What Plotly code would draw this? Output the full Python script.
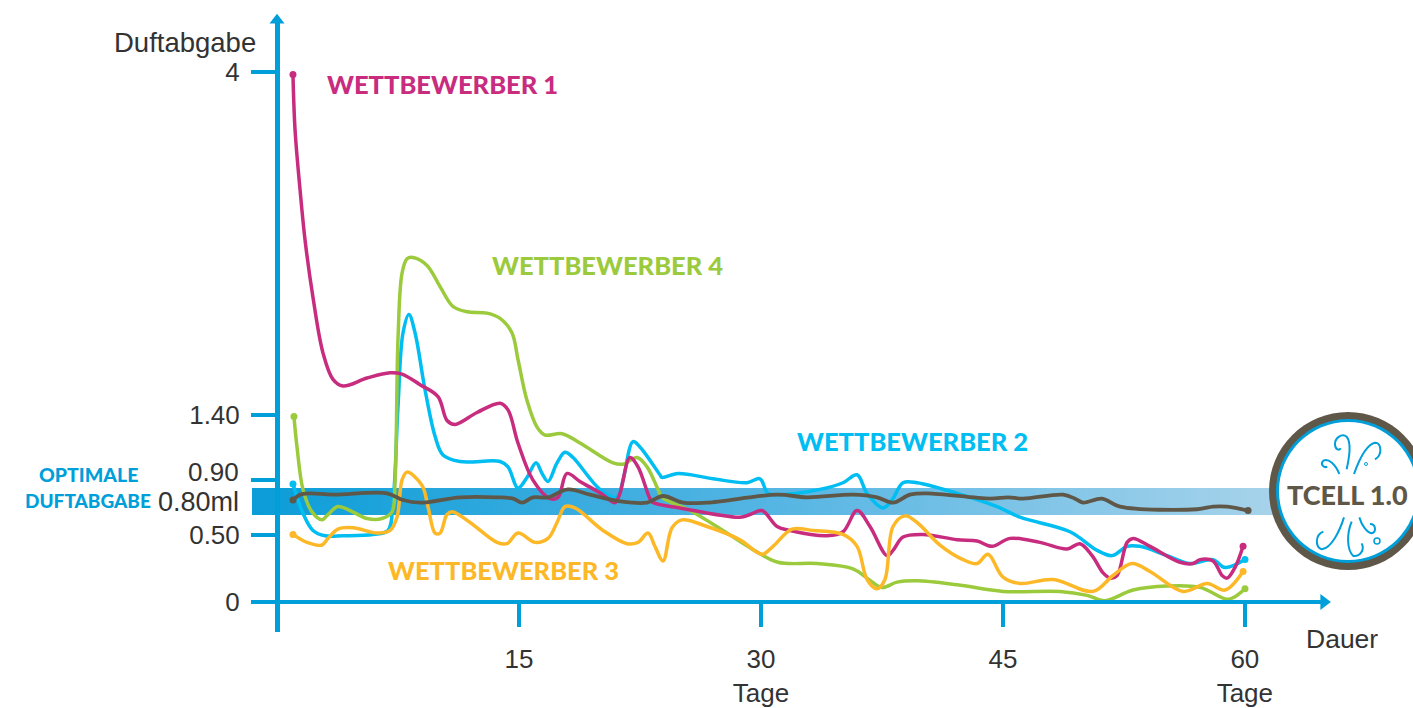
import plotly.graph_objects as go

# ---------- data (day, scent release) ----------
w1_x = [0.99,1.12,1.43,1.74,2.23,2.85,3.47,4.09,5.58,7.01,7.75,8.87,9.98,10.54,11.04,12.40,13.83,14.32,14.94,15.87,16.93,17.42,17.98,18.78,20.21,20.95,21.26,21.88,22.38,23.12,23.31,24.98,28.70,29.32,30.07,31.0,31.80,34.10,35.09,35.96,36.76,37.82,38.19,38.81,40.05,42.16,43.40,44.33,45.44,47.30,48.98,49.78,50.53,51.21,51.64,52.08,52.70,53.07,54.12,55.98,56.79,57.22,58.03,58.59,58.90,59.39,59.89]
w1_y = [3.98,3.56,3.11,2.73,2.30,1.88,1.68,1.63,1.69,1.73,1.72,1.64,1.55,1.37,1.34,1.43,1.50,1.45,1.20,.92,.78,.79,.97,.91,.81,.75,.82,1.09,1.02,.78,.75,.71,.64,.66,.69,.57,.54,.50,.53,.69,.57,.35,.39,.49,.51,.47,.46,.42,.48,.45,.40,.44,.35,.22,.18,.20,.45,.48,.42,.30,.29,.32,.31,.20,.18,.26,.42]

w2_x = [.99,1.61,2.23,2.98,4.09,5.95,6.88,7.19,7.50,7.81,8.18,8.56,9.18,9.80,10.29,11.35,13.83,14.32,14.94,15.50,16.06,16.43,16.80,17.36,17.85,18.35,20.02,21.08,21.45,22.07,22.5,23.74,23.87,24.86,27.03,29.14,29.94,30.44,31.18,33.66,35.09,35.96,36.58,37.57,38.13,38.81,39.68,42.16,44.64,46.06,49.16,50.84,51.77,52.70,53.50,55.18,56.60,58.03,58.77,60.01]
w2_y = [.89,.67,.54,.50,.50,.51,.54,.75,1.47,2.03,2.17,2.03,1.60,1.25,1.11,1.06,1.06,1.02,.86,.94,1.05,.97,.91,1.05,1.13,1.09,.85,.79,.92,1.21,1.17,.96,.94,.97,.93,.90,.93,.82,.81,.85,.90,.96,.82,.71,.77,.90,.90,.82,.72,.64,.53,.39,.35,.42,.42,.35,.29,.32,.26,.32]

w3_x = [.99,1.86,2.79,3.16,3.78,4.71,6.20,7.01,7.44,7.75,8.06,8.99,9.36,9.80,10.11,10.54,10.91,11.97,13.64,14.26,14.94,16.0,16.80,17.36,17.85,18.47,20.21,21.70,22.38,23.0,23.43,23.93,24.49,25.11,26.66,28.70,30.07,30.75,31.93,33.23,35.09,35.96,36.58,37.20,37.69,38.19,38.93,39.68,41.10,42.53,43.40,44.08,44.99,46.06,48.11,50.59,51.83,53.0,54.12,56.17,57.66,58.77,59.89]
w3_y = [.51,.45,.43,.48,.55,.56,.52,.54,.64,.92,.98,.88,.72,.52,.52,.66,.68,.60,.45,.44,.52,.45,.48,.60,.72,.71,.54,.44,.45,.52,.42,.31,.56,.62,.57,.47,.36,.42,.55,.54,.51,.42,.17,.10,.17,.57,.65,.60,.43,.32,.29,.36,.19,.14,.17,.08,.20,.29,.23,.08,.14,.09,.23]

w4_x = [1.05,1.24,1.61,2.17,2.79,3.16,3.78,4.53,5.58,6.51,7.13,7.32,7.50,7.75,8.06,8.43,9.30,10.11,10.91,11.78,13.02,13.83,14.57,14.94,15.50,16.12,16.61,17.67,18.78,20.83,21.45,22.32,22.94,23.62,23.87,25.60,27.65,29.32,31.06,33.48,35.71,36.58,37.51,38.44,39.68,42.16,45.01,48.54,50.22,51.33,53.07,55.18,57.22,58.90,59.39,60.01]
w4_y = [1.40,1.17,.85,.68,.62,.66,.72,.69,.63,.63,.68,.92,1.98,2.48,2.59,2.60,2.54,2.38,2.23,2.19,2.18,2.14,2.03,1.83,1.52,1.32,1.26,1.27,1.20,1.05,1.04,1.09,1.02,.85,.79,.69,.54,.41,.30,.29,.25,.18,.11,.15,.16,.13,.08,.08,.05,.01,.09,.12,.11,.02,.04,.10]

tcell_x = [.99,1.43,2.05,3.47,6.82,7.81,8.87,11.35,13.64,14.63,15.19,15.87,16.80,18.04,19.40,21.26,22.94,23.93,25.17,26.66,31.0,32.86,35.71,37.20,38.19,39.24,40.30,44.20,45.32,46.25,48.73,49.47,49.97,51.15,52.26,57.04,58.03,58.90,60.2]
tcell_y = [.77,.81,.82,.81,.82,.77,.75,.79,.79,.78,.75,.79,.79,.85,.81,.76,.75,.80,.75,.75,.81,.79,.81,.79,.75,.81,.82,.78,.79,.78,.81,.78,.75,.78,.72,.70,.72,.72,.69]

x_tick_vals = [15, 30, 45, 60]
x_tick_text = ["15", "30<br>Tage", "45", "60<br>Tage"]
y_tick_vals = [0, 0.506, 0.92, 1.41, 4]
y_tick_text = ["0", "0.50", "", "1.40", "4"]
band_low, band_high = 0.657, 0.86

AXIS = "#009FDA"
RED, BLUE, YEL, GRN, BRN = "#C82C7E", "#00BDF2", "#FDB827", "#9BCB3C", "#5F5849"
L, R, T, B = 252, 1325, 20, 632


def px(x, y):
    return (x - L) / (R - L), (B - y) / (B - T)


def series(x, y, color, width=3.5, dot=7):
    sizes = [dot] + [0] * (len(x) - 2) + [dot]
    return go.Scatter(x=x, y=y, mode="lines+markers", hoverinfo="skip", showlegend=False, cliponaxis=False,
                      line=dict(color=color, width=width, shape="spline", smoothing=1.0),
                      marker=dict(color=color, size=sizes, opacity=1, line=dict(width=0)))


fig = go.Figure()
fig.add_trace(go.Scatter(
    x=[-1.55, 63, 63, -1.55, -1.55], y=[band_low, band_low, band_high, band_high, band_low],
    mode="lines", line=dict(width=0), fill="toself", hoverinfo="skip", showlegend=False,
    fillgradient=dict(type="horizontal", colorscale=[[0, "#0B9DD8"], [0.5, "#55B5E3"], [1, "#AAD4EB"]])))
fig.add_trace(series(w2_x, w2_y, BLUE))
fig.add_trace(series(w4_x, w4_y, GRN))
fig.add_trace(series(w1_x, w1_y, RED))
fig.add_trace(series(w3_x, w3_y, YEL))
fig.add_trace(series(tcell_x, tcell_y, BRN, width=3.8))
# axis arrow heads
fig.add_trace(go.Scatter(x=[0], y=[4.39], mode="markers", cliponaxis=False, hoverinfo="skip", showlegend=False,
                         marker=dict(symbol="triangle-up", size=13, color=AXIS)))
fig.add_trace(go.Scatter(x=[64.9], y=[0], mode="markers", cliponaxis=False, hoverinfo="skip", showlegend=False,
                         marker=dict(symbol="triangle-right", size=14, color=AXIS)))


def label(text, x, y, color, size, font="Lato", bold=True, anchor="center"):
    xp, yp = px(x, y)
    f = dict(family=font, size=size, color=color)
    if bold:
        f["weight"] = 900
    fig.add_annotation(text=text, x=xp, y=yp, xref="paper", yref="paper",
                       showarrow=False, xanchor=anchor, yanchor="middle", font=f)


label("WETTBEWERBER 1", 442, 84, RED, 25.5)
label("WETTBEWERBER 4", 607, 265, GRN, 25.5)
label("WETTBEWERBER 2", 912, 441, BLUE, 25.5)
label("WETTBEWERBER 3", 503, 570, YEL, 25.5)
label("OPTIMALE", 88, 474, AXIS, 19.5)
label("DUFTABGABE", 88, 500, AXIS, 19)
label("Duftabgabe", 185, 43, "#333333", 27.5, "Liberation Sans", False)
label("0.90", 241, 472, "#333333", 26, "Liberation Sans", False, "right")
label("0.80ml", 241, 502, "#333333", 27, "Liberation Sans", False, "right")
label("Dauer", 1342, 639, "#333333", 26.5, "Liberation Sans", False)

# ---------- TCELL logo ----------
shapes = []
cx, cy = 1348, 491


def circle(x, y, r, fill, line=None, w=0):
    x0, y0 = px(x - r, y + r)
    x1, y1 = px(x + r, y - r)
    shapes.append(dict(type="circle", xref="paper", yref="paper", x0=x0, x1=x1, y0=y0, y1=y1,
                       fillcolor=fill, line=dict(color=line or fill, width=w), layer="above"))


def z(a, b):
    xp, yp = px(1000 + a / 3, 400 + b / 3)
    return f"{xp:.5f},{yp:.5f}"


def curl(start, *segs):
    d = "M" + z(*start)
    for s in segs:
        d += " C" + " ".join(z(s[i], s[i + 1]) for i in (0, 2, 4))
    shapes.append(dict(type="path", path=d, xref="paper", yref="paper", layer="above",
                       line=dict(color=AXIS, width=2), fillcolor="rgba(0,0,0,0)"))


circle(cx, cy, 79, BRN)
circle(cx, cy, 72, AXIS)
circle(cx, cy, 69, "#FFFFFF")
curl((1040, 208), (1048, 170, 1055, 130, 1040, 110), (1025, 98, 1003, 115, 1005, 135), (1007, 150, 1018, 152, 1022, 145))
curl((1062, 222), (1075, 185, 1095, 135, 1125, 128), (1145, 128, 1148, 165, 1125, 178))
curl((1018, 222), (1005, 190, 985, 175, 970, 182), (960, 192, 970, 205, 982, 200))
curl((1032, 352), (1020, 390, 995, 445, 965, 448), (945, 440, 945, 405, 970, 395))
curl((1055, 365), (1040, 400, 1040, 450, 1060, 468), (1080, 470, 1095, 450, 1085, 430))
curl((1078, 352), (1085, 375, 1100, 398, 1115, 400), (1130, 395, 1128, 372, 1110, 372))
circle(1366, 464, 1.5, "#FFFFFF", AXIS, 1)
circle(1377, 541, 3, "#FFFFFF", AXIS, 1.5)
label("TCELL 1.0", 1347, 494, BRN, 27)

fig.update_layout(
    width=1413, height=708, autosize=False, paper_bgcolor="white", plot_bgcolor="white",
    margin=dict(l=L, r=1413 - R, t=T, b=708 - B, autoexpand=False), showlegend=False, shapes=shapes,
    xaxis=dict(range=[-1.55, 64.97], anchor="free", position=(B - 602) / (B - T), showgrid=False, zeroline=False,
               showline=True, linecolor=AXIS, linewidth=4, ticks="outside", ticklen=23, tickwidth=4, tickcolor=AXIS,
               tickvals=x_tick_vals, ticktext=x_tick_text, ticklabelstandoff=10,
               tickfont=dict(family="Liberation Sans", size=26, color="#333333")),
    yaxis=dict(range=[-0.2264, 4.392], anchor="free", position=(277 - L) / (R - L), showgrid=False, zeroline=False,
               showline=True, linecolor=AXIS, linewidth=5, ticks="outside", ticklen=24, tickwidth=4, tickcolor=AXIS,
               tickvals=y_tick_vals, ticktext=y_tick_text, ticklabelstandoff=6,
               tickfont=dict(family="Liberation Sans", size=26, color="#333333")),
)

fig.write_html("out.html", config=dict(displayModeBar=False),
               post_script="document.body.style.margin='0';document.body.style.overflow='hidden';")
